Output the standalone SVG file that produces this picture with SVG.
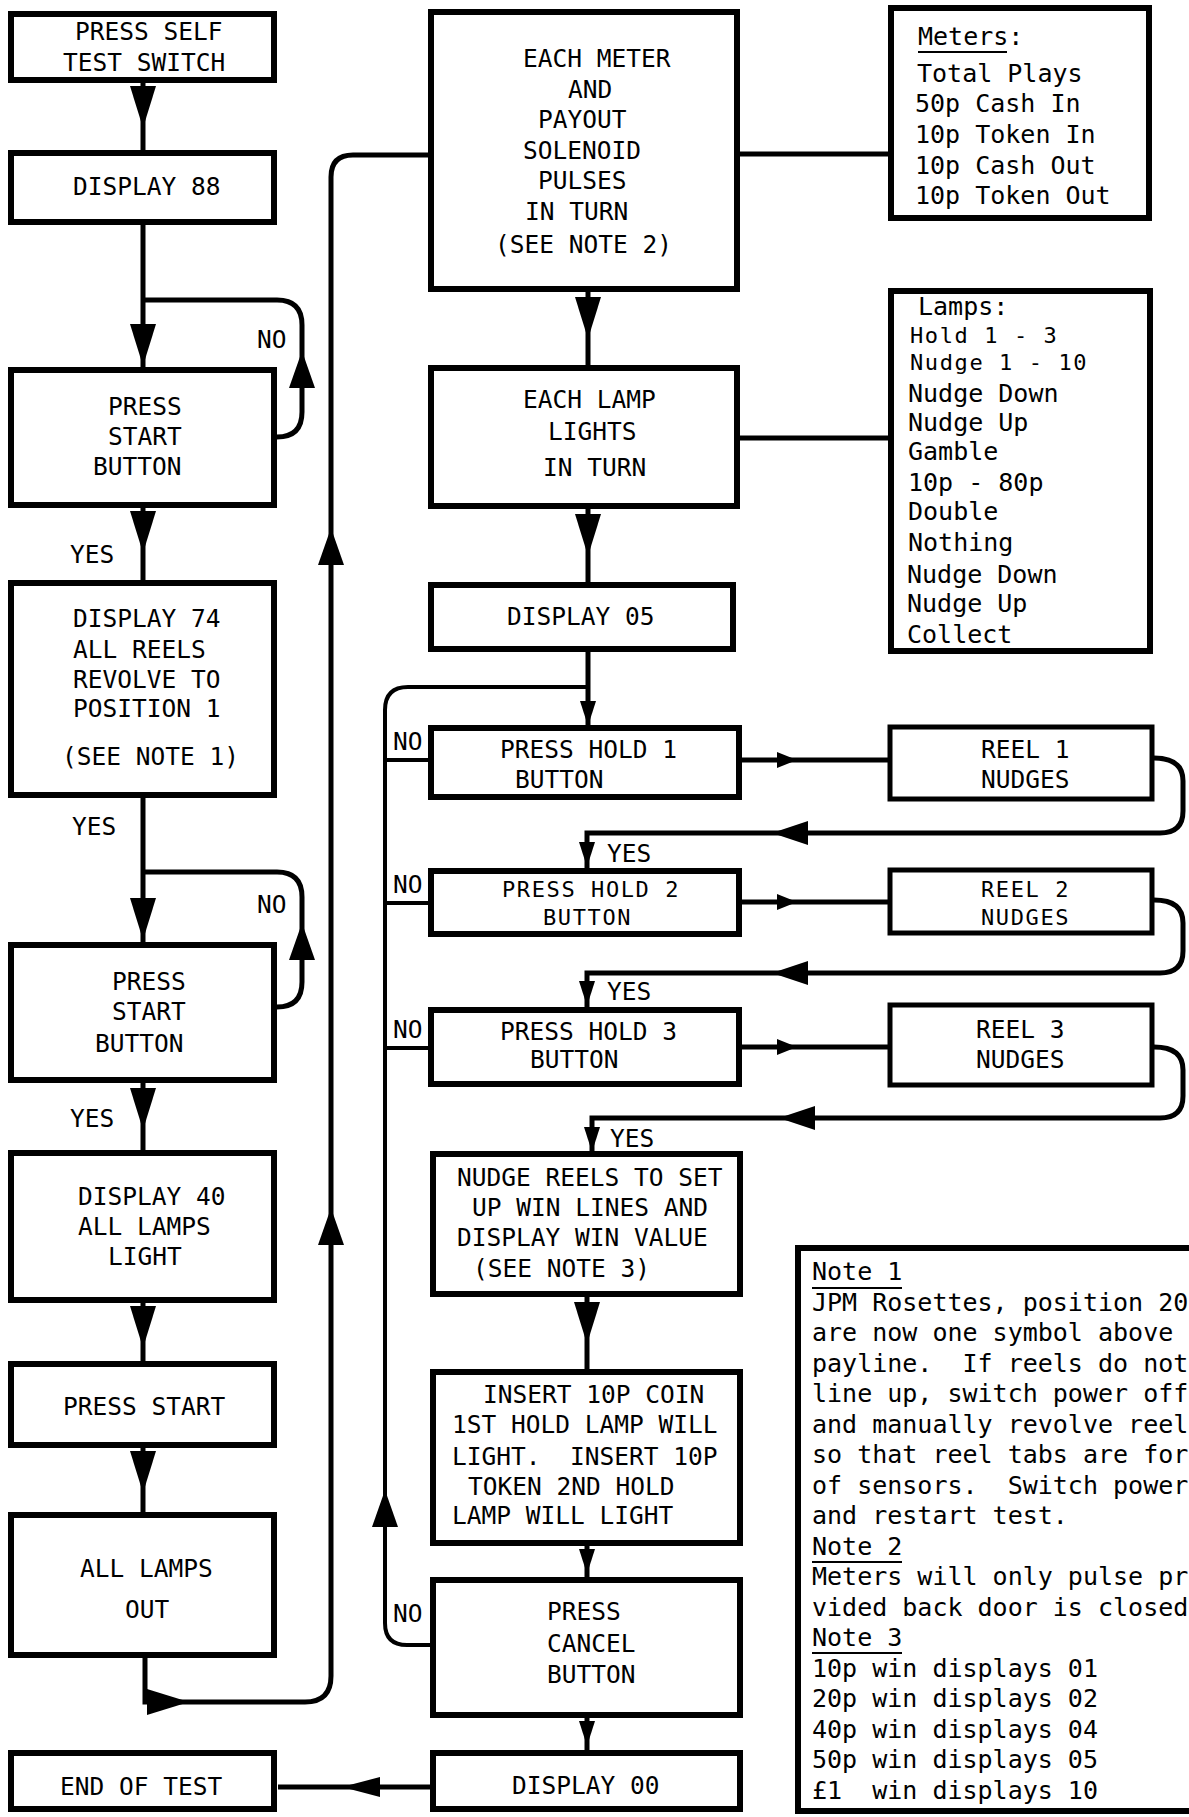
<svg xmlns="http://www.w3.org/2000/svg" xmlns:xlink="http://www.w3.org/1999/xlink" width="1189" height="1817" viewBox="0 0 1189 1817">
<style>
.box{fill:#fff;stroke:#000;stroke-width:6}
.bx2{fill:#fff;stroke:#000;stroke-width:5}
.ln{fill:none;stroke:#000;stroke-width:5}
.ln4{fill:none;stroke:#000;stroke-width:4}
.ul{stroke:#000;stroke-width:2}
.ah{fill:#000;stroke:none}
text{font-family:"DejaVu Sans Mono","Liberation Mono",monospace;font-size:24.5px;fill:#000;white-space:pre}
.lc{font-size:25px}
.sm{font-size:22px;letter-spacing:1.6px}
</style>
<defs>
<path id="adB" class="ah" d="M-13,0 L13,0 L0,42 Z"/>
<path id="auB" class="ah" d="M-13,0 L13,0 L0,-37 Z"/>
<path id="adS" class="ah" d="M-8,0 L8,0 L0,25 Z"/>
<path id="arS" class="ah" d="M0,-8 L0,8 L20,0 Z"/>
<path id="alB" class="ah" d="M0,-12 L0,12 L-36,0 Z"/>
<path id="arB" class="ah" d="M0,-13 L0,13 L42,0 Z"/>
<path id="alM" class="ah" d="M0,-10 L0,10 L-38,0 Z"/>
</defs>
<rect width="1189" height="1817" fill="#fff"/>
<g id="connectors">
<path class="ln" d="M143,83 V150"/>
<path class="ln" d="M143,225 V367"/>
<path class="ln" d="M277,437 Q302,437 302,412 V325 Q302,300 277,300 H143"/>
<path class="ln" d="M143,508 V580"/>
<path class="ln" d="M143,798 V942"/>
<path class="ln" d="M277,1007 Q302,1007 302,982 V897 Q302,872 277,872 H143"/>
<path class="ln" d="M143,1083 V1150"/>
<path class="ln" d="M143,1303 V1361"/>
<path class="ln" d="M143,1448 V1512"/>
<path class="ln" d="M145,1658 V1702 H305 Q331,1702 331,1676 V177 Q331,155 353,155 H428"/>
<path class="ln" d="M740,154 H888"/>
<path class="ln" d="M740,438 H888"/>
<path class="ln" d="M588,292 V365"/>
<path class="ln" d="M588,509 V582"/>
<path class="ln" d="M588,652 V725"/>
<path class="ln4" d="M430,1645 H407 Q385,1645 385,1623 V710 Q385,687 408,687 H588"/>
<path class="ln4" d="M385,760 H428"/>
<path class="ln4" d="M385,903 H428"/>
<path class="ln4" d="M385,1048 H428"/>
<path class="ln" d="M742,760 H888"/>
<path class="ln" d="M742,902 H888"/>
<path class="ln" d="M742,1047 H888"/>
<path class="ln" d="M1154,758 Q1183,758 1183,781 V811 Q1183,833 1160,833 H587 V868"/>
<path class="ln" d="M1154,900 Q1183,900 1183,923 V951 Q1183,973 1160,973 H587 V1007"/>
<path class="ln" d="M1154,1047 Q1183,1047 1183,1070 V1096 Q1183,1118 1160,1118 H592 V1151"/>
<path class="ln" d="M587,1297 V1369"/>
<path class="ln" d="M587,1546 V1577"/>
<path class="ln" d="M587,1718 V1750"/>
<path class="ln" d="M430,1787 H278"/>
<use xlink:href="#adB" x="143" y="86"/>
<use xlink:href="#adB" x="143" y="324"/>
<use xlink:href="#adB" x="143" y="511"/>
<use xlink:href="#adB" x="143" y="898"/>
<use xlink:href="#adB" x="143" y="1088"/>
<use xlink:href="#adB" x="143" y="1306"/>
<use xlink:href="#adB" x="143" y="1451"/>
<use xlink:href="#auB" x="302" y="388"/>
<use xlink:href="#auB" x="302" y="960"/>
<use xlink:href="#auB" x="331" y="565"/>
<use xlink:href="#auB" x="331" y="1245"/>
<use xlink:href="#arB" x="147" y="1702"/>
<use xlink:href="#adB" x="588" y="297"/>
<use xlink:href="#adB" x="588" y="514"/>
<use xlink:href="#adB" x="587" y="1302"/>
<use xlink:href="#adS" x="588" y="701"/>
<use xlink:href="#adS" x="587" y="842"/>
<use xlink:href="#adS" x="587" y="981"/>
<use xlink:href="#adS" x="592" y="1127"/>
<use xlink:href="#adS" x="587" y="1549"/>
<use xlink:href="#adS" x="587" y="1721"/>
<use xlink:href="#arS" x="777" y="760"/>
<use xlink:href="#arS" x="777" y="902"/>
<use xlink:href="#arS" x="777" y="1047"/>
<use xlink:href="#alB" x="808" y="833"/>
<use xlink:href="#alB" x="808" y="973"/>
<use xlink:href="#alB" x="815" y="1118"/>
<use xlink:href="#auB" x="385" y="1527"/>
<use xlink:href="#alM" x="380" y="1787"/>
<text x="257" y="348">NO</text>
<text x="70" y="563">YES</text>
<text x="72" y="835">YES</text>
<text x="257" y="913">NO</text>
<text x="70" y="1127">YES</text>
<text x="393" y="750">NO</text>
<text x="393" y="893">NO</text>
<text x="393" y="1038">NO</text>
<text x="393" y="1622">NO</text>
<text x="607" y="862">YES</text>
<text x="607" y="1000">YES</text>
<text x="610" y="1147">YES</text>
</g>
<g id="n-self-test">
<rect class="box" x="11" y="14" width="263" height="66"/>
<text x="75" y="40">PRESS SELF</text>
<text x="63" y="71">TEST SWITCH</text>
</g>
<g id="n-display-88">
<rect class="box" x="11" y="153" width="263" height="69"/>
<text x="73" y="195">DISPLAY 88</text>
</g>
<g id="n-press-start-1">
<rect class="box" x="11" y="370" width="263" height="135"/>
<text x="108" y="415">PRESS</text>
<text x="108" y="445">START</text>
<text x="93" y="475">BUTTON</text>
</g>
<g id="n-display-74">
<rect class="box" x="11" y="583" width="263" height="212"/>
<text x="73" y="627">DISPLAY 74</text>
<text x="73" y="658">ALL REELS</text>
<text x="73" y="688">REVOLVE TO</text>
<text x="73" y="717">POSITION 1</text>
<text x="62" y="765">(SEE NOTE 1)</text>
</g>
<g id="n-press-start-2">
<rect class="box" x="11" y="945" width="263" height="135"/>
<text x="112" y="990">PRESS</text>
<text x="112" y="1020">START</text>
<text x="95" y="1052">BUTTON</text>
</g>
<g id="n-display-40">
<rect class="box" x="11" y="1153" width="263" height="147"/>
<text x="78" y="1205">DISPLAY 40</text>
<text x="78" y="1235">ALL LAMPS</text>
<text x="108" y="1265">LIGHT</text>
</g>
<g id="n-press-start-3">
<rect class="box" x="11" y="1364" width="263" height="81"/>
<text x="63" y="1415">PRESS START</text>
</g>
<g id="n-all-lamps-out">
<rect class="box" x="11" y="1515" width="263" height="140"/>
<text x="80" y="1577">ALL LAMPS</text>
<text x="125" y="1618">OUT</text>
</g>
<g id="n-end-of-test">
<rect class="box" x="11" y="1753" width="263" height="56"/>
<text x="60" y="1795">END OF TEST</text>
</g>
<g id="n-each-meter">
<rect class="box" x="431" y="12" width="306" height="277"/>
<text x="523" y="67">EACH METER</text>
<text x="568" y="98">AND</text>
<text x="538" y="128">PAYOUT</text>
<text x="523" y="159">SOLENOID</text>
<text x="538" y="189">PULSES</text>
<text x="525" y="220">IN TURN</text>
<text x="495" y="253">(SEE NOTE 2)</text>
</g>
<g id="n-each-lamp">
<rect class="box" x="431" y="368" width="306" height="138"/>
<text x="523" y="408">EACH LAMP</text>
<text x="548" y="440">LIGHTS</text>
<text x="543" y="476">IN TURN</text>
</g>
<g id="n-display-05">
<rect class="box" x="431" y="585" width="302" height="64"/>
<text x="507" y="625">DISPLAY 05</text>
</g>
<g id="n-hold-1">
<rect class="box" x="431" y="728" width="308" height="69"/>
<text x="500" y="758">PRESS HOLD 1</text>
<text x="515" y="788">BUTTON</text>
</g>
<g id="n-hold-2">
<rect class="box" x="431" y="871" width="308" height="63"/>
<text class="sm" x="502" y="897">PRESS HOLD 2</text>
<text class="sm" x="543" y="925">BUTTON</text>
</g>
<g id="n-hold-3">
<rect class="box" x="431" y="1010" width="308" height="74"/>
<text x="500" y="1040">PRESS HOLD 3</text>
<text x="530" y="1068">BUTTON</text>
</g>
<g id="n-reel-1">
<rect class="bx2" x="890" y="727" width="262" height="72"/>
<text x="981" y="758">REEL 1</text>
<text x="981" y="788">NUDGES</text>
</g>
<g id="n-reel-2">
<rect class="bx2" x="890" y="870" width="262" height="63"/>
<text class="sm" x="981" y="897">REEL 2</text>
<text class="sm" x="981" y="925">NUDGES</text>
</g>
<g id="n-reel-3">
<rect class="bx2" x="890" y="1005" width="262" height="80"/>
<text x="976" y="1038">REEL 3</text>
<text x="976" y="1068">NUDGES</text>
</g>
<g id="n-nudge-reels">
<rect class="box" x="433" y="1154" width="307" height="140"/>
<text x="457" y="1186">NUDGE REELS TO SET</text>
<text x="472" y="1216">UP WIN LINES AND</text>
<text x="457" y="1246">DISPLAY WIN VALUE</text>
<text x="473" y="1277">(SEE NOTE 3)</text>
</g>
<g id="n-insert">
<rect class="box" x="433" y="1372" width="307" height="171"/>
<text x="483" y="1403">INSERT 10P COIN</text>
<text x="452" y="1433">1ST HOLD LAMP WILL</text>
<text x="452" y="1465" xml:space="preserve">LIGHT.  INSERT 10P</text>
<text x="468" y="1495">TOKEN 2ND HOLD</text>
<text x="452" y="1524">LAMP WILL LIGHT</text>
</g>
<g id="n-press-cancel">
<rect class="box" x="433" y="1580" width="307" height="135"/>
<text x="547" y="1620">PRESS</text>
<text x="547" y="1652">CANCEL</text>
<text x="547" y="1683">BUTTON</text>
</g>
<g id="n-display-00">
<rect class="box" x="433" y="1753" width="307" height="56"/>
<text x="512" y="1794">DISPLAY 00</text>
</g>
<g id="n-meters">
<rect class="box" x="891" y="8" width="258" height="210"/>
<text class="lc" x="918" y="45">Meters:</text>
<line class="ul" x1="918" y1="52" x2="1007" y2="52"/>
<text class="lc" x="917" y="82">Total Plays</text>
<text class="lc" x="915" y="112">50p Cash In</text>
<text class="lc" x="915" y="143">10p Token In</text>
<text class="lc" x="915" y="174">10p Cash Out</text>
<text class="lc" x="915" y="204">10p Token Out</text>
</g>
<g id="n-lamps">
<rect class="box" x="891" y="291" width="259" height="360"/>
<text class="lc" x="918" y="315">Lamps:</text>
<text class="sm" x="910" y="343">Hold 1 - 3</text>
<text class="sm" x="910" y="370">Nudge 1 - 10</text>
<text class="lc" x="908" y="402">Nudge Down</text>
<text class="lc" x="908" y="431">Nudge Up</text>
<text class="lc" x="908" y="460">Gamble</text>
<text class="lc" x="908" y="491">10p - 80p</text>
<text class="lc" x="908" y="520">Double</text>
<text class="lc" x="908" y="551">Nothing</text>
<text class="lc" x="907" y="583">Nudge Down</text>
<text class="lc" x="907" y="612">Nudge Up</text>
<text class="lc" x="907" y="643">Collect</text>
</g>
<g id="n-notes">
<rect class="box" x="798" y="1248" width="420" height="563"/>
<text class="lc" x="812" y="1280">Note 1</text>
<line class="ul" x1="812" y1="1288" x2="902" y2="1288"/>
<text class="lc" x="812" y="1310.5">JPM Rosettes, position 20</text>
<text class="lc" x="812" y="1341">are now one symbol above</text>
<text class="lc" x="812" y="1371.5" xml:space="preserve">payline.  If reels do not</text>
<text class="lc" x="812" y="1402">line up, switch power off</text>
<text class="lc" x="812" y="1432.5">and manually revolve reel</text>
<text class="lc" x="812" y="1463">so that reel tabs are for</text>
<text class="lc" x="812" y="1493.5" xml:space="preserve">of sensors.  Switch power</text>
<text class="lc" x="812" y="1524">and restart test.</text>
<text class="lc" x="812" y="1554.5">Note 2</text>
<line class="ul" x1="812" y1="1562" x2="902" y2="1562"/>
<text class="lc" x="812" y="1585">Meters will only pulse pr</text>
<text class="lc" x="812" y="1615.5">vided back door is closed</text>
<text class="lc" x="812" y="1646">Note 3</text>
<line class="ul" x1="812" y1="1653" x2="902" y2="1653"/>
<text class="lc" x="812" y="1676.5">10p win displays 01</text>
<text class="lc" x="812" y="1707">20p win displays 02</text>
<text class="lc" x="812" y="1737.5">40p win displays 04</text>
<text class="lc" x="812" y="1768">50p win displays 05</text>
<text class="lc" x="812" y="1798.5" xml:space="preserve">£1  win displays 10</text>
</g>
</svg>
